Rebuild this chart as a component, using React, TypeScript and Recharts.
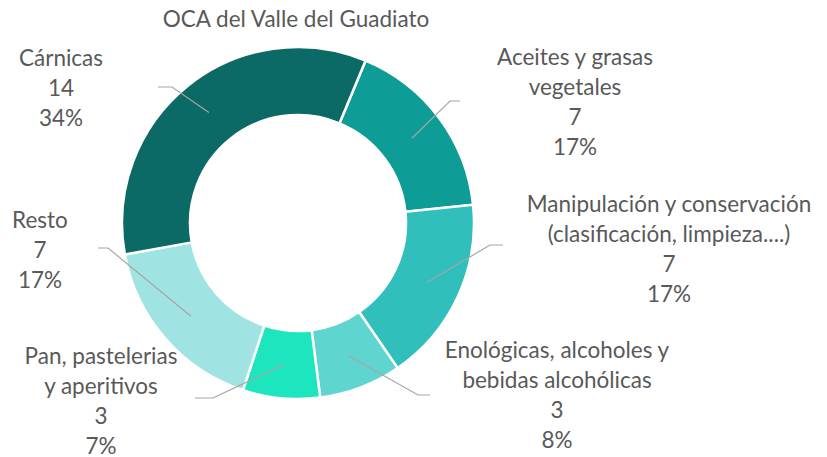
import React from 'react';
import { PieChart, Pie, Cell } from 'recharts';

const TITLE = 'OCA del Valle del Guadiato';
const CATEGORIES = [
  'Aceites y grasas\nvegetales',
  'Manipulación y conservación\n(clasificación, limpieza....)',
  'Enológicas, alcoholes y\nbebidas alcohólicas',
  'Pan, pastelerias\ny aperitivos',
  'Resto',
  'Cárnicas',
];
const VALUES = [7, 7, 3.1, 2.9, 7, 14];
const COLORS = ['#0e9c97', '#31bfbb', '#5fd5d0', '#1de6be', '#9fe3e2', '#0b6a66'];

// label layout (text centre x, first baseline y, elbow point, horizontal end x)
const LABEL_LAYOUT = [
  { tx: 575, ty: 65, ex: 450, ey: 101, hx: 460 },
  { tx: 669, ty: 212, ex: 490, ey: 245, hx: 503 },
  { tx: 557, ty: 358, ex: 418, ey: 395, hx: 430 },
  { tx: 101, ty: 364, ex: 213, ey: 398, hx: 195 },
  { tx: 40, ty: 228, ex: 108, ey: 248, hx: 98 },
  { tx: 61, ty: 66, ex: 172, ey: 87, hx: 158 },
];

const data = CATEGORIES.map((name, i) => ({ name, value: VALUES[i] }));
const FONT = 'Lato, "Open Sans", sans-serif';
const FS = 22.5;
const RAD = Math.PI / 180;

const renderLabel = (props: any) => {
  const { cx, cy, midAngle, innerRadius, outerRadius, value, percent, index, name } = props;
  const r = (innerRadius + outerRadius) / 2;
  const sx = cx + r * Math.cos(-midAngle * RAD);
  const sy = cy + r * Math.sin(-midAngle * RAD);
  const L = LABEL_LAYOUT[index];
  const lines = [...String(name).split('\n'), String(Math.round(value)), `${Math.round(percent * 100)}%`];
  return (
    <g>
      <polyline
        points={`${sx},${sy} ${L.ex},${L.ey} ${L.hx},${L.ey}`}
        fill="none"
        stroke="#a6a6a6"
        strokeWidth={1.2}
      />
      <text x={L.tx} y={L.ty} textAnchor="middle" fill="#595959" fontSize={FS} fontFamily={FONT}>
        {lines.map((ln, k) => (
          <tspan key={k} x={L.tx} y={L.ty + k * 30}>
            {ln}
          </tspan>
        ))}
      </text>
    </g>
  );
};

export default function App() {
  return (
    <div style={{ position: 'absolute', left: 0, top: 0, background: '#fff' }}>
      <PieChart width={827} height={457} margin={{ top: 0, right: 0, bottom: 0, left: 0 }}>
        <text x={296} y={27} textAnchor="middle" fill="#595959" fontSize={FS} fontFamily={FONT}>
          {TITLE}
        </text>
        <Pie
          data={data}
          dataKey="value"
          nameKey="name"
          cx={298}
          cy={223}
          innerRadius={108}
          outerRadius={176}
          startAngle={67.4}
          endAngle={-292.6}
          stroke="#ffffff"
          strokeWidth={2.5}
          label={renderLabel}
          labelLine={false}
          isAnimationActive={false}
        >
          {data.map((d, i) => (
            <Cell key={d.name} fill={COLORS[i]} />
          ))}
        </Pie>
      </PieChart>
    </div>
  );
}
